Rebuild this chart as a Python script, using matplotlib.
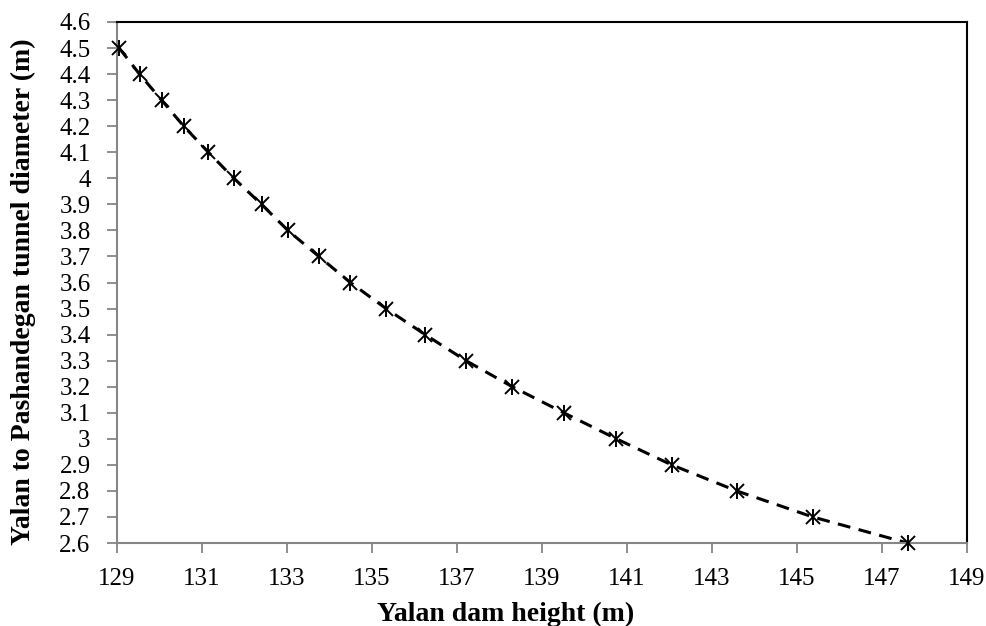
import matplotlib.pyplot as plt
from matplotlib.ticker import MultipleLocator, FuncFormatter

# Altura de la presa (m) y diametro del tunel (m)
altura = [129.05, 129.53, 130.05, 130.57, 131.15, 131.75, 132.40, 133.02,
          133.75, 134.49, 135.33, 136.25, 137.21, 138.30, 139.51, 140.75,
          142.05, 143.58, 145.37, 147.60]
diametro = [4.5, 4.4, 4.3, 4.2, 4.1, 4.0, 3.9, 3.8, 3.7, 3.6, 3.5, 3.4,
            3.3, 3.2, 3.1, 3.0, 2.9, 2.8, 2.7, 2.6]
ticks_x = list(range(129, 150, 2))

plt.rcParams['font.family'] = ['Liberation Serif', 'DejaVu Serif']

fig = plt.figure(figsize=(9.87, 6.26), dpi=100)
ax = fig.add_axes([117 / 987, 1 - 543 / 626, 850 / 987, 521 / 626])

ax.plot(altura, diametro, color="black", lw=2.2, dashes=(4.2, 2.8), zorder=2)
ax.plot(altura, diametro, ls="none", marker="x", ms=10, mew=1.4,
        color="black", zorder=3, clip_on=False)
ax.plot(altura, diametro, ls="none", marker="|", ms=12, mew=1.4,
        color="black", zorder=3, clip_on=False)

ax.set_xlim(129, 149)
ax.set_ylim(2.6, 4.6)
ax.set_xticks(ticks_x)
ax.yaxis.set_major_locator(MultipleLocator(0.1))
ax.yaxis.set_major_formatter(FuncFormatter(lambda v, p: f"{v:.1f}".rstrip("0").rstrip(".")))

for lado in ["left", "bottom"]:
    ax.spines[lado].set_color("#868686")
    ax.spines[lado].set_linewidth(1.5)
for lado in ["top", "right"]:
    ax.spines[lado].set_color("black")
    ax.spines[lado].set_linewidth(1.5)

ax.tick_params(axis="both", direction="out", length=7, width=1.3,
               color="#868686", labelsize=18)
ax.tick_params(axis="y", pad=12)
ax.tick_params(axis="x", pad=11)

ax.set_xlabel("Yalan dam height (m)", fontsize=20, fontweight="bold", va="center")
ax.set_ylabel("Yalan to Pashandegan tunnel diameter (m)", fontsize=20,
              fontweight="bold", va="center")
ax.xaxis.set_label_coords((506 - 117) / 850, (543 - 614) / 521)
ax.yaxis.set_label_coords((23 - 117) / 850, (543 - 292) / 521)

fig.savefig("out.png", dpi=100)
